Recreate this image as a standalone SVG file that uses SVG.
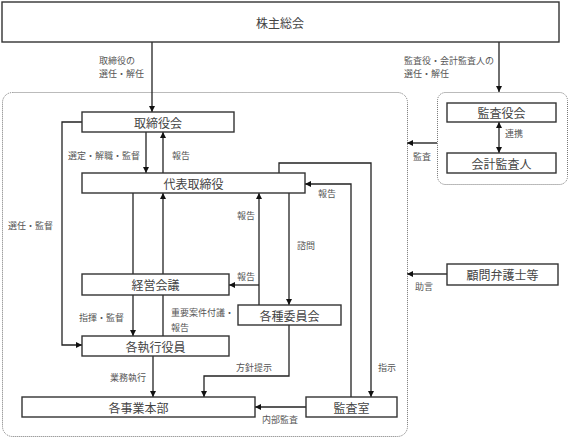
<svg xmlns="http://www.w3.org/2000/svg" width="570" height="438" viewBox="0 0 570 438">
<defs>
<marker id="ah" viewBox="0 0 10 10" refX="10" refY="5" markerWidth="6" markerHeight="6" orient="auto-start-reverse" markerUnits="userSpaceOnUse">
<path d="M0,0 L10,5 L0,10 z" fill="#111"/>
</marker>
<style>
.box{fill:#fff;stroke:#333;stroke-width:1.4}
.grp{fill:none;stroke:#777;stroke-width:1;stroke-dasharray:1 1}
.bt{font-family:"Noto Sans CJK JP","Noto Sans",sans-serif;font-size:12px;fill:#444;text-anchor:middle;dominant-baseline:central}
.lb{font-family:"Noto Sans CJK JP","Noto Sans",sans-serif;font-size:9px;fill:#555;dominant-baseline:central}
.ln{fill:none;stroke:#222;stroke-width:1.3}
.ar{marker-end:url(#ah)}
.gl{fill:none;stroke:#666;stroke-width:2}
</style>
</defs>
<rect width="570" height="438" fill="#fff"/>
<g id="groups">
<rect class="grp" x="2.5" y="92.5" width="405" height="344" rx="10"/>
<rect class="grp" x="437.5" y="92.5" width="130" height="92" rx="8"/>
</g>
<g id="connectors">
<path class="ln ar" d="M152,42 V112"/>
<path class="ln ar" d="M499,42 V92"/>
<path class="ln ar" d="M82,122 H62 V345 H82"/>
<path class="ln ar" d="M146,132 V173"/>
<path class="ln ar" d="M163,173 V132"/>
<path class="ln ar" d="M279,173 V163 H371 V397"/>
<path class="ln ar" d="M351,397 V184 H305"/>
<path class="ln" d="M133,193 V274"/>
<path class="ln ar" d="M163,274 V193"/>
<path class="ln ar" d="M259,305 V193"/>
<path class="ln ar" d="M259,285 H229"/>
<path class="ln ar" d="M289,193 V305"/>
<path class="ln ar" d="M133,295 V336"/>
<path class="ln" d="M163,336 V295"/>
<path class="ln ar" d="M153,356 V397"/>
<path class="ln ar" d="M289,325 V376 H204 V397"/>
<path class="ln ar" d="M306,407 H255"/>
<path class="ln ar" d="M499,122 V153" style="marker-start:url(#ah)"/>
<path class="gl ar" d="M437,143 H407"/>
<path class="gl ar" d="M447,274 H407"/>
</g>
<g id="labels">
<text class="lb" x="99" y="60">取締役の</text>
<text class="lb" x="99" y="73">選任・解任</text>
<text class="lb" x="404" y="60">監査役・会計監査人の</text>
<text class="lb" x="404" y="73">選任・解任</text>
<text class="lb" x="505" y="133">連携</text>
<text class="lb" x="413" y="156">監査</text>
<text class="lb" x="68" y="155">選定・解職・監督</text>
<text class="lb" x="172" y="155">報告</text>
<text class="lb" x="318" y="193">報告</text>
<text class="lb" x="8" y="225">選任・監督</text>
<text class="lb" x="237" y="215">報告</text>
<text class="lb" x="297" y="245">諮問</text>
<text class="lb" x="237" y="276">報告</text>
<text class="lb" x="79" y="317">指揮・監督</text>
<text class="lb" x="171" y="312">重要案件付議・</text>
<text class="lb" x="171" y="327">報告</text>
<text class="lb" x="110" y="377">業務執行</text>
<text class="lb" x="236" y="367">方針提示</text>
<text class="lb" x="378" y="367">指示</text>
<text class="lb" x="262" y="419">内部監査</text>
<text class="lb" x="415" y="286">助言</text>
</g>
<g id="kabunushi"><rect class="box" x="2" y="2" width="557" height="40"/><text class="bt" x="280" y="22">株主総会</text></g>
<g id="torishimariyakukai"><rect class="box" x="82" y="112" width="152" height="20"/><text class="bt" x="158" y="122">取締役会</text></g>
<g id="daihyo"><rect class="box" x="82" y="173" width="223" height="20"/><text class="bt" x="193.5" y="183">代表取締役</text></g>
<g id="keiei"><rect class="box" x="82" y="274" width="147" height="21"/><text class="bt" x="155.5" y="284.5">経営会議</text></g>
<g id="iinkai"><rect class="box" x="238" y="305" width="103" height="20"/><text class="bt" x="289.5" y="315">各種委員会</text></g>
<g id="shikkou"><rect class="box" x="82" y="336" width="147" height="20"/><text class="bt" x="155.5" y="346">各執行役員</text></g>
<g id="jigyo"><rect class="box" x="22" y="397" width="233" height="20"/><text class="bt" x="138.5" y="407">各事業本部</text></g>
<g id="kansashitsu"><rect class="box" x="306" y="397" width="91" height="20"/><text class="bt" x="351.5" y="407">監査室</text></g>
<g id="kansayakukai"><rect class="box" x="447" y="103" width="109" height="19"/><text class="bt" x="501.5" y="112.5">監査役会</text></g>
<g id="kaikei"><rect class="box" x="447" y="153" width="109" height="20"/><text class="bt" x="501.5" y="163">会計監査人</text></g>
<g id="komon"><rect class="box" x="447" y="264" width="111" height="21"/><text class="bt" x="502.5" y="274.5">顧問弁護士等</text></g>
</svg>
